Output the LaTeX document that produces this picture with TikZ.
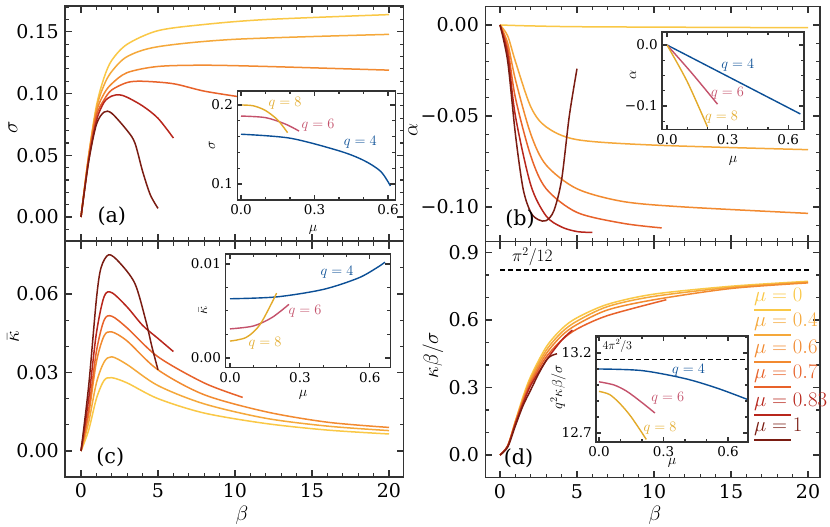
\documentclass[tikz,border=0pt]{standalone}
\usepackage{fontspec}
\setmainfont{DejaVu Serif}
\definecolor{c0}{HTML}{FAC846}
\definecolor{c1}{HTML}{F5A83A}
\definecolor{c2}{HTML}{F28A30}
\definecolor{c3}{HTML}{E8622A}
\definecolor{c4}{HTML}{B8261C}
\definecolor{c5}{HTML}{7A1C12}
\definecolor{qb}{HTML}{0B4F96}
\definecolor{qp}{HTML}{C4516B}
\definecolor{qg}{HTML}{E3AA2A}
\definecolor{fr}{HTML}{333333}
\tikzset{
 frame/.style={draw=fr,line width=1.1pt},
 curve/.style={line width=1.5pt,line join=round},
 icurve/.style={line width=1.4pt,line join=round},
 tlab/.style={font=\fontsize{19}{19}\selectfont,inner sep=1pt},
 ilab/.style={font=\fontsize{13.5}{13.5}\selectfont,inner sep=1pt},
 alab/.style={font=\fontsize{20.74}{21}\selectfont},
 qlab/.style={font=\fontsize{14.4}{14.4}\selectfont,inner sep=0pt},
 leg/.style={font=\fontsize{20.74}{21}\selectfont,anchor=south west,inner sep=0pt},
}
\newcommand\mybox[9][7pt]{%
 \draw[frame] (#2,#4) rectangle (#3,#5);
 \foreach \t in {#6}{\draw[frame] (\t,#4) -- ++(0,#1); \draw[frame] (\t,#5) -- ++(0,-#1);}
 \foreach \t in {#7}{\draw[frame] (\t,#4) -- ++(0,0.55*#1); \draw[frame] (\t,#5) -- ++(0,-0.55*#1);}
 \foreach \t in {#8}{\draw[frame] (#2,\t) -- ++(#1,0); \draw[frame] (#3,\t) -- ++(-#1,0);}
 \foreach \t in {#9}{\draw[frame] (#2,\t) -- ++(0.55*#1,0); \draw[frame] (#3,\t) -- ++(-0.55*#1,0);}
}
\begin{document}
\begin{tikzpicture}[x=1pt,y=1pt]
\useasboundingbox (0,0) rectangle (830,527);
\fill[white] (0,0) rectangle (830,527);

%================ (a)
\begin{scope}[x=15.4pt,y=1234pt,shift={(81pt,310pt)}]
\draw[c0,curve] plot[smooth] coordinates {(0,0)(0.5,0.05)(1,0.09)(1.5,0.113)(2,0.127)(3,0.14)(5,0.151)(8,0.156)(12,0.16)(20,0.164)};
\draw[c1,curve] plot[smooth] coordinates {(0,0)(0.5,0.05)(1,0.088)(1.5,0.107)(2,0.118)(3,0.13)(5,0.138)(10,0.144)(20,0.148)};
\draw[c2,curve] plot[smooth] coordinates {(0,0)(0.5,0.049)(1,0.085)(1.5,0.1)(2,0.108)(3,0.117)(5,0.122)(8,0.123)(12,0.122)(20,0.119)};
\draw[c3,curve] plot[smooth] coordinates {(0,0)(0.5,0.048)(1,0.082)(1.5,0.095)(2,0.103)(3,0.109)(4,0.11)(6,0.108)(8,0.102)(10.5,0.097)};
\draw[c4,curve] plot[smooth] coordinates {(0,0)(0.5,0.046)(1,0.078)(1.5,0.093)(2,0.098)(2.5,0.099)(3,0.097)(4,0.09)(5,0.08)(6,0.064)};
\draw[c5,curve] plot[smooth] coordinates {(0,0)(0.5,0.045)(1,0.075)(1.5,0.085)(2,0.084)(3,0.07)(3.5,0.06)(4,0.037)(4.5,0.018)(5,0.007)};
\mybox{-1.04}{20.97}{-0.0194}{0.171}{0,5,...,20}{-1,0,...,20}{0,0.05,0.1,0.15}{-0.01,0,0.01,0.02,0.03,0.04,0.05,0.06,0.07,0.08,0.09,0.1,0.11,0.12,0.13,0.14,0.15,0.16,0.17}
\foreach \v/\s in {0/0.00,0.05/0.05,0.1/0.10,0.15/0.15}{\node[tlab,anchor=east] at ([xshift=-5pt]-1.04,\v) {\s};}
\node[alab] at (2.0,0.001) {(a)};
\end{scope}
% inset (a)
\begin{scope}[x=245pt,y=790pt,shift={(241pt,264pt)}]
\fill[white] (-0.016,0.0797) rectangle (0.629,0.2177);
\draw[qb,icurve] plot[smooth] coordinates {(0,0.163)(0.2,0.158)(0.4,0.142)(0.5,0.13)(0.57,0.116)(0.61,0.0975)};
\draw[qp,icurve] plot[smooth] coordinates {(0,0.186)(0.1,0.184)(0.18,0.176)(0.237,0.167)};
\draw[qg,icurve] plot[smooth] coordinates {(0,0.2)(0.05,0.199)(0.1,0.193)(0.15,0.181)(0.19,0.165)};
\mybox[5pt]{-0.016}{0.629}{0.0797}{0.2177}{0,0.3,0.6}{0,0.1,...,0.6}{0.1,0.2}{0.08,0.1,0.12,0.14,0.16,0.18,0.2}
\foreach \v/\s in {0.1/0.1,0.2/0.2}{\node[ilab,anchor=east] at ([xshift=-3pt]-0.016,\v) {\s};}
\foreach \v in {0.0,0.3,0.6}{\node[ilab,anchor=north] at ([yshift=-3pt]\v,0.0797) {\v};}
\node[qlab,qg] at (0.18,0.202) {$q=8$};
\node[qlab,qp] at (0.314,0.174) {$q=6$};
\node[qlab,qb] at (0.487,0.153) {$q=4$};
\end{scope}
\node[font=\fontsize{14.4}{15}\selectfont] at (313,297) {$\mu$};
\node[font=\fontsize{14.4}{15}\selectfont,rotate=90] at (212,382) {$\sigma$};

%================ (b)
\begin{scope}[x=15.4pt,y=1820pt,shift={(500pt,502pt)}]
\draw[c0,curve] plot[smooth] coordinates {(0,0)(2,-0.0005)(6,-0.001)(20,-0.0015)};
\draw[c1,curve] plot[smooth] coordinates {(0,0)(0.5,-0.006)(1,-0.02)(2,-0.045)(3,-0.056)(5,-0.063)(10,-0.066)(20,-0.0685)};
\draw[c2,curve] plot[smooth] coordinates {(0,0)(0.5,-0.01)(1,-0.03)(2,-0.06)(3,-0.077)(5,-0.09)(8,-0.097)(12,-0.1)(20,-0.1035)};
\draw[c3,curve] plot[smooth] coordinates {(0,0)(0.5,-0.013)(1,-0.04)(2,-0.072)(3,-0.09)(5,-0.103)(8,-0.109)(10.5,-0.1115)};
\draw[c4,curve] plot[smooth] coordinates {(0,0)(0.5,-0.016)(1,-0.05)(2,-0.088)(3,-0.105)(4,-0.111)(5,-0.1135)(6,-0.114)};
\draw[c5,curve] plot[smooth] coordinates {(0,0)(0.5,-0.02)(1,-0.06)(1.5,-0.09)(2,-0.103)(2.5,-0.107)(3,-0.1075)(3.5,-0.102)(4,-0.085)(4.5,-0.05)(5,-0.024)};
\mybox{-0.97}{20.78}{-0.1192}{0.0104}{0,5,...,20}{0,1,...,20}{-0.1,-0.05,0}{-0.11,-0.1,-0.09,-0.08,-0.07,-0.06,-0.05,-0.04,-0.03,-0.02,-0.01,0,0.01}
\foreach \v/\s in {0/0.00,-0.05/−0.05,-0.1/−0.10}{\node[tlab,anchor=east] at ([xshift=-5pt]-0.97,\v) {\s};}
\node[alab] at (1.3,-0.1065) {(b)};
\end{scope}
% inset (b)
\begin{scope}[x=202pt,y=610pt,shift={(667pt,482pt)}]
\fill[white] (-0.025,-0.139) rectangle (0.678,0.0213);
\draw[qb,icurve] (0,0) -- (0.66,-0.113);
\draw[qp,icurve] plot[smooth] coordinates {(0,0)(0.12,-0.045)(0.25,-0.097)};
\draw[qg,icurve] plot[smooth] coordinates {(0,0)(0.1,-0.06)(0.2,-0.134)};
\mybox[5pt]{-0.025}{0.678}{-0.139}{0.0213}{0,0.3,0.6}{0,0.1,...,0.6}{-0.1,0}{-0.125,-0.1,-0.075,-0.05,-0.025,0}
\foreach \v/\s in {0/0.0,-0.1/−0.1}{\node[ilab,anchor=east] at ([xshift=-3pt]-0.025,\v) {\s};}
\foreach \v in {0.0,0.3,0.6}{\node[ilab,anchor=north] at ([yshift=-3pt]\v,-0.139) {\v};}
\node[qlab,qb] at (0.35,-0.033) {$q=4$};
\node[qlab,qp] at (0.30,-0.079) {$q=6$};
\node[qlab,qg] at (0.27,-0.118) {$q=8$};
\end{scope}
\node[font=\fontsize{14.4}{15}\selectfont] at (733,366) {$\mu$};
\node[font=\fontsize{14.4}{15}\selectfont,rotate=90] at (633,452) {$\alpha$};

%================ (c)
\begin{scope}[x=15.4pt,y=2617pt,shift={(81pt,76pt)}]
\draw[c0,curve] plot[smooth] coordinates {(0,0)(0.5,0.008)(1,0.02)(1.5,0.027)(2,0.028)(3,0.026)(5,0.02)(8,0.0145)(12,0.0105)(16,0.008)(20,0.0065)};
\draw[c1,curve] plot[smooth] coordinates {(0,0)(0.5,0.011)(1,0.026)(1.5,0.034)(2,0.036)(3,0.033)(5,0.025)(8,0.018)(12,0.0125)(16,0.0095)(20,0.0078)};
\draw[c2,curve] plot[smooth] coordinates {(0,0)(0.5,0.014)(1,0.034)(1.5,0.044)(2,0.0455)(3,0.042)(5,0.031)(8,0.0215)(12,0.015)(16,0.011)(20,0.009)};
\draw[c3,curve] plot[smooth] coordinates {(0,0)(0.5,0.016)(1,0.038)(1.5,0.05)(2,0.0515)(3,0.047)(5,0.036)(8,0.026)(10.5,0.0205)};
\draw[c4,curve] plot[smooth] coordinates {(0,0)(0.5,0.02)(1,0.045)(1.5,0.059)(2,0.0605)(3,0.055)(4,0.048)(5,0.043)(6,0.038)};
\draw[c5,curve] plot[smooth] coordinates {(0,0)(0.5,0.025)(1,0.058)(1.3,0.07)(1.8,0.075)(2.5,0.072)(3.5,0.064)(4.2,0.05)(4.6,0.04)(5,0.031)};
\mybox{-1.04}{20.97}{-0.00994}{0.0799}{0,5,...,20}{-1,0,...,20}{0,0.03,0.06}{0,0.01,0.02,0.03,0.04,0.05,0.06,0.07}
\foreach \v/\s in {0/0.00,0.03/0.03,0.06/0.06}{\node[tlab,anchor=east] at ([xshift=-5pt]-1.04,\v) {\s};}
\foreach \v in {0,5,10,15,20}{\node[tlab,anchor=north] at ([yshift=-5pt]\v,-0.00994) {\v};}
\node[alab] at (1.9,-0.0025) {(c)};
\end{scope}
% inset (c)
\begin{scope}[x=233pt,y=9400pt,shift={(230pt,169pt)}]
\fill[white] (-0.021,-0.00106) rectangle (0.687,0.01106);
\draw[qb,icurve] plot[smooth] coordinates {(0,0.0063)(0.2,0.0065)(0.4,0.0073)(0.55,0.0085)(0.63,0.0096)(0.665,0.0102)};
\draw[qp,icurve] plot[smooth] coordinates {(0,0.0031)(0.1,0.0034)(0.18,0.0043)(0.253,0.0057)};
\draw[qg,icurve] plot[smooth] coordinates {(0,0.0018)(0.07,0.0022)(0.13,0.0036)(0.2,0.0069)};
\mybox[5pt]{-0.021}{0.687}{-0.00106}{0.01106}{0,0.3,0.6}{0,0.1,...,0.6}{0,0.01}{0,0.0025,0.005,0.0075,0.01}
\foreach \v/\s in {0/0.00,0.01/0.01}{\node[ilab,anchor=east] at ([xshift=-3pt]-0.021,\v) {\s};}
\foreach \v in {0.0,0.3,0.6}{\node[ilab,anchor=north] at ([yshift=-3pt]\v,-0.00106) {\v};}
\node[qlab,qb] at (0.459,0.0091) {$q=4$};
\node[qlab,qp] at (0.322,0.005) {$q=6$};
\node[qlab,qg] at (0.15,0.0016) {$q=8$};
\end{scope}
\node[font=\fontsize{14.4}{15}\selectfont] at (303,132) {$\mu$};
\node[font=\fontsize{14.4}{15}\selectfont,rotate=90] at (203,217) {$\bar\kappa$};

%================ (d)
\begin{scope}[x=15.4pt,y=225pt,shift={(500pt,72pt)}]
\draw[black,line width=1.3pt,dash pattern=on 5pt off 3pt] (0,0.822) -- (20.1,0.822);
\node[font=\fontsize{17.28}{18}\selectfont] at (2.1,0.88) {$\pi^2/12$};
\draw[c0,curve] plot[smooth] coordinates {(0,0)(0.5,0.04)(1,0.15)(1.5,0.26)(2,0.35)(3,0.48)(4,0.56)(5,0.61)(7,0.67)(10,0.715)(15,0.75)(20,0.772)};
\draw[c1,curve] plot[smooth] coordinates {(0,0)(0.5,0.04)(1,0.15)(1.5,0.25)(2,0.34)(3,0.465)(4,0.545)(5,0.595)(7,0.66)(10,0.705)(15,0.745)(20,0.768)};
\draw[c2,curve] plot[smooth] coordinates {(0,0)(0.5,0.04)(1,0.145)(1.5,0.245)(2,0.33)(3,0.45)(4,0.53)(5,0.58)(7,0.645)(10,0.69)(15,0.74)(20,0.765)};
\draw[c3,curve] plot[smooth] coordinates {(0,0)(0.5,0.04)(1,0.142)(1.5,0.24)(2,0.32)(3,0.435)(4,0.51)(5,0.56)(7,0.62)(10.8,0.69)};
\draw[c4,curve] plot[smooth] coordinates {(0,0)(0.5,0.04)(1,0.14)(1.5,0.23)(2,0.31)(3,0.42)(4,0.51)(4.7,0.555)};
\draw[c5,curve] plot[smooth] coordinates {(0,0)(0.5,0.035)(1,0.13)(1.5,0.22)(2,0.29)(2.5,0.36)(3,0.42)(3.3,0.44)(3.7,0.45)};
\mybox{-0.97}{20.78}{-0.102}{0.947}{0,5,...,20}{0,1,...,20}{0,0.3,0.6,0.9}{-0.1,0,0.1,0.2,0.3,0.4,0.5,0.6,0.7,0.8,0.9}
\foreach \v/\s in {0/0.0,0.3/0.3,0.6/0.6,0.9/0.9}{\node[tlab,anchor=east] at ([xshift=-5pt]-0.97,\v) {\s};}
\foreach \v in {0,5,10,15,20}{\node[tlab,anchor=north] at ([yshift=-5pt]\v,-0.102) {\v};}
\node[alab] at (1.2,-0.013) {(d)};
\end{scope}
% inset (d)
\begin{scope}[x=215pt,y=160pt,shift={(599pt,94pt)}]
\fill[white] (-0.014,-0.056) rectangle (0.693,0.606);
\draw[black,line width=1.3pt,dash pattern=on 5pt off 3pt] (-0.014,0.459) -- (0.693,0.459);
\node[font=\fontsize{12}{12}\selectfont,inner sep=0pt] at (0.085,0.545) {$4\pi^2/3$};
\draw[qb,icurve] plot[smooth] coordinates {(0,0.4)(0.2,0.39)(0.4,0.34)(0.55,0.28)(0.69,0.21)};
\draw[qp,icurve] plot[smooth] coordinates {(0,0.32)(0.07,0.3)(0.13,0.26)(0.2,0.19)(0.26,0.125)};
\draw[qg,icurve] plot[smooth] coordinates {(0,0.26)(0.05,0.24)(0.1,0.18)(0.15,0.1)(0.22,-0.04)};
\mybox[5pt]{-0.014}{0.693}{-0.056}{0.606}{0,0.3,0.6}{0,0.1,...,0.6}{0,0.5}{0,0.1,0.2,0.3,0.4,0.5,0.6}
\foreach \v/\s in {0/12.7,0.5/13.2}{\node[ilab,anchor=east] at ([xshift=-3pt]-0.014,\v) {\s};}
\foreach \v in {0.0,0.3,0.6}{\node[ilab,anchor=north] at ([yshift=-3pt]\v,-0.056) {\v};}
\node[qlab,qb] at (0.416,0.395) {$q=4$};
\node[qlab,qp] at (0.32,0.215) {$q=6$};
\node[qlab,qg] at (0.284,0.03) {$q=8$};
\end{scope}
\node[font=\fontsize{14.4}{15}\selectfont] at (672,64) {$\mu$};
\node[font=\fontsize{14.4}{15}\selectfont,rotate=90] at (558,140) {$q^2\kappa\beta/\sigma$};

% legend
\foreach \c/\t/\y in {c0/0/217,c1/0.4/192,c2/0.6/165,c3/0.7/140,c4/0.83/112,c5/1/87}{
 \node[leg,text=\c] at (754,\y+4) {$\mu=\t$};
 \draw[\c,line width=1.6pt] (754,\y) -- (791,\y);
}

% axis labels
\node[alab,rotate=90] at (13,400) {$\sigma$};
\node[alab,rotate=90] at (413,397) {$\alpha$};
\node[alab,rotate=90] at (13,190) {$\bar\kappa$};
\node[alab,rotate=90] at (433,172) {$\kappa\beta/\sigma$};
\node[alab] at (242,12) {$\beta$};
\node[alab] at (655,12) {$\beta$};
\end{tikzpicture}
\end{document}
